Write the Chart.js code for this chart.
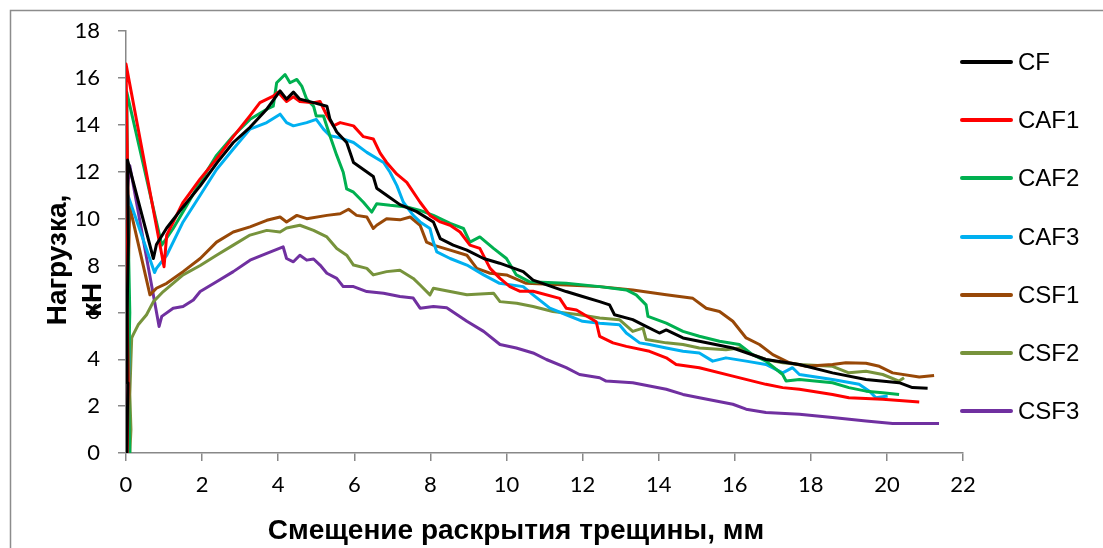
<!DOCTYPE html>
<html>
<head>
<meta charset="utf-8">
<script src="https://cdn.jsdelivr.net/npm/chart.js@4.4.1/dist/chart.umd.min.js"></script>
<style>
  html, body { margin: 0; padding: 0; background: #fff; }
  #wrap { position: relative; width: 1103px; height: 548px; overflow: hidden; }
  #legend { position: absolute; left: 960px; top: 0; font-family: 'Liberation Sans', Arial, sans-serif; font-size: 24px; color: #000; }
  .item { position: absolute; left: 0; height: 26px; white-space: nowrap; }
  .item .ln { position: absolute; left: 0; top: 11px; width: 53px; height: 4px; border-radius: 2px; }
  .item .tx { position: absolute; left: 58px; top: 0; line-height: 26px; }
</style>
</head>
<body>
<div id="wrap">
  <canvas id="chart" width="1103" height="548"></canvas>
  <div id="legend"></div>
</div>
<script>
// Crack mouth opening displacement (mm) vs load (kN)

const cfX = [0.02, 0.05, 0.03, 0.06, 0.04, 0.72, 0.8, 1.07, 1.5, 1.95, 2.4, 2.82, 3.26, 3.7, 4.05, 4.22, 4.4, 4.57, 4.93, 5.28, 5.36, 5.54, 5.8, 5.98, 6.24, 6.5, 6.59, 6.85, 7.2, 7.64, 8.08, 8.26, 8.6, 8.96, 9.4, 9.82, 10.44, 10.7, 11.57, 12.0, 12.45, 12.71, 12.84, 13.32, 13.59, 14.02, 14.2, 14.64, 15.07, 15.95, 16.82, 17.7, 18.57, 19.45, 20.32, 20.67, 21.07];
const cfY = [0, 3, 6, 9, 12.5, 8.3, 8.9, 9.6, 10.5, 11.4, 12.4, 13.25, 13.9, 14.67, 15.45, 15.1, 15.4, 15.1, 14.95, 14.8, 14.25, 13.7, 13.25, 12.4, 12.1, 11.8, 11.3, 11.0, 10.6, 10.3, 9.86, 9.15, 8.87, 8.66, 8.3, 8.1, 7.74, 7.38, 6.89, 6.68, 6.46, 6.32, 5.9, 5.69, 5.47, 5.12, 5.25, 4.91, 4.77, 4.48, 3.99, 3.78, 3.42, 3.14, 3.0, 2.79, 2.76];

const caf1X = [0.03, 0.06, 0.02, 0.05, 0.0, 1.0, 1.07, 1.5, 1.95, 2.38, 2.82, 3.26, 3.52, 3.87, 4.0, 4.22, 4.4, 4.57, 4.93, 5.1, 5.28, 5.45, 5.63, 5.98, 6.24, 6.5, 6.68, 6.85, 7.12, 7.38, 7.73, 7.99, 8.26, 8.52, 8.78, 9.04, 9.3, 9.57, 9.83, 10.09, 10.36, 10.7, 11.4, 11.57, 11.84, 12.36, 12.45, 12.8, 13.15, 13.76, 14.2, 14.46, 15.07, 15.95, 16.82, 17.26, 17.7, 18.57, 19.0, 19.89, 20.85];
const caf1Y = [0, 3, 7, 11, 16.6, 7.95, 9.3, 10.7, 11.7, 12.55, 13.5, 14.4, 14.95, 15.23, 15.4, 15.0, 15.2, 15.0, 14.95, 15.0, 14.4, 13.96, 14.1, 13.96, 13.5, 13.4, 12.8, 12.4, 11.9, 11.55, 10.7, 10.14, 9.86, 9.72, 9.43, 8.87, 8.73, 7.88, 7.45, 7.1, 6.9, 6.9, 6.6, 6.18, 6.1, 5.6, 4.98, 4.7, 4.55, 4.34, 4.06, 3.78, 3.64, 3.28, 2.93, 2.79, 2.72, 2.5, 2.36, 2.29, 2.18];

const caf2X = [0.1, 0.06, 0.1, 0.05, 0.02, 0.94, 1.24, 1.6, 1.95, 2.38, 2.82, 3.26, 3.7, 3.87, 3.96, 4.18, 4.31, 4.49, 4.62, 4.75, 4.93, 5.0, 5.19, 5.36, 5.54, 5.71, 5.8, 5.98, 6.24, 6.46, 6.59, 6.94, 7.38, 7.73, 8.08, 8.52, 8.87, 9.04, 9.3, 9.66, 10.0, 10.26, 10.6, 11.57, 12.45, 13.15, 13.41, 13.67, 13.72, 14.2, 14.64, 15.07, 15.6, 16.12, 16.47, 16.82, 17.26, 17.35, 17.7, 18.57, 19.0, 19.45, 19.89, 20.32];
const caf2Y = [0, 3, 6, 10, 15.4, 8.87, 9.58, 10.57, 11.56, 12.7, 13.54, 14.24, 14.67, 14.8, 15.8, 16.15, 15.8, 15.94, 15.66, 15.1, 14.8, 14.38, 14.38, 13.54, 12.7, 11.98, 11.27, 11.13, 10.7, 10.28, 10.64, 10.57, 10.5, 10.35, 10.14, 9.8, 9.58, 9.0, 9.22, 8.73, 8.3, 7.6, 7.31, 7.24, 7.1, 6.96, 6.75, 6.32, 5.83, 5.54, 5.19, 4.98, 4.77, 4.63, 4.2, 3.92, 3.35, 3.07, 3.14, 3.0, 2.79, 2.64, 2.57, 2.5];

const caf3X = [0.04, 0.08, 0.05, 0.75, 0.8, 1.07, 1.5, 1.95, 2.38, 2.82, 3.26, 3.7, 4.05, 4.22, 4.4, 4.75, 5.0, 5.19, 5.36, 5.63, 5.98, 6.33, 6.77, 6.94, 7.12, 7.29, 7.55, 7.73, 7.99, 8.08, 8.17, 8.52, 8.96, 9.4, 9.82, 10.44, 10.7, 11.14, 11.57, 12.0, 12.45, 12.97, 13.15, 13.5, 13.76, 14.2, 14.64, 15.07, 15.42, 15.77, 16.3, 16.82, 17.26, 17.52, 17.7, 18.57, 19.27, 19.54, 19.71, 20.02];
const caf3Y = [0, 4, 11, 7.7, 7.88, 8.44, 9.86, 11.0, 12.1, 12.97, 13.82, 14.1, 14.46, 14.1, 13.96, 14.1, 14.24, 13.82, 13.54, 13.45, 13.25, 12.83, 12.4, 11.98, 11.41, 10.7, 10.14, 9.86, 9.58, 9.0, 8.58, 8.3, 8.02, 7.6, 7.24, 7.1, 6.75, 6.18, 5.9, 5.62, 5.54, 5.47, 5.12, 4.7, 4.63, 4.48, 4.34, 4.27, 3.92, 4.06, 3.92, 3.78, 3.42, 3.64, 3.35, 3.14, 2.93, 2.64, 2.36, 2.43];

const csf1X = [0.05, 0.08, 0.04, 0.1, 0.63, 0.8, 1.07, 1.5, 1.95, 2.38, 2.82, 3.26, 3.7, 4.05, 4.22, 4.49, 4.75, 5.28, 5.63, 5.85, 6.06, 6.33, 6.5, 6.59, 6.85, 7.2, 7.47, 7.73, 7.9, 8.08, 8.52, 8.96, 9.22, 9.57, 10.0, 10.52, 11.57, 12.45, 13.32, 14.2, 14.9, 15.25, 15.6, 15.95, 16.3, 16.65, 17.0, 17.44, 17.87, 18.57, 18.92, 19.45, 19.8, 20.15, 20.85, 21.24];
const csf1Y = [0, 3, 6.5, 10.5, 6.75, 7.03, 7.24, 7.74, 8.3, 9.0, 9.43, 9.65, 9.93, 10.07, 9.86, 10.14, 10.0, 10.14, 10.21, 10.4, 10.14, 10.07, 9.58, 9.72, 10.0, 9.95, 10.07, 9.72, 9.0, 8.87, 8.66, 8.44, 7.88, 7.67, 7.6, 7.24, 7.17, 7.1, 6.96, 6.75, 6.6, 6.18, 6.04, 5.62, 4.91, 4.63, 4.2, 3.85, 3.7, 3.78, 3.85, 3.83, 3.7, 3.42, 3.24, 3.31];

const csf2X = [0.1, 0.13, 0.1, 0.13, 0.15, 0.19, 0.32, 0.54, 0.72, 0.98, 1.5, 1.95, 2.38, 2.82, 3.26, 3.7, 4.05, 4.22, 4.57, 4.93, 5.28, 5.54, 5.8, 5.98, 6.33, 6.5, 6.85, 7.2, 7.55, 7.73, 7.99, 8.08, 8.52, 8.96, 9.66, 9.83, 10.27, 10.7, 11.22, 11.92, 12.45, 12.97, 13.32, 13.59, 13.67, 14.2, 14.64, 15.07, 15.77, 16.12, 16.47, 16.82, 17.26, 17.7, 18.57, 19.0, 19.45, 19.89, 20.32, 20.45];
const csf2Y = [0, 1, 2.5, 4, 4.91, 5.05, 5.47, 5.9, 6.46, 6.89, 7.6, 8.0, 8.44, 8.87, 9.3, 9.5, 9.43, 9.6, 9.72, 9.5, 9.22, 8.73, 8.44, 8.02, 7.88, 7.6, 7.74, 7.8, 7.45, 7.17, 6.75, 7.03, 6.89, 6.75, 6.82, 6.46, 6.39, 6.25, 6.04, 5.9, 5.76, 5.69, 5.19, 5.33, 4.84, 4.7, 4.63, 4.48, 4.41, 4.48, 4.2, 3.99, 3.85, 3.78, 3.7, 3.42, 3.49, 3.35, 3.07, 3.21];

const csf3X = [0.03, 0.06, 0.02, 0.1, 0.87, 0.94, 1.24, 1.5, 1.77, 1.95, 2.38, 2.82, 3.26, 3.7, 4.13, 4.22, 4.4, 4.57, 4.75, 4.93, 5.1, 5.28, 5.54, 5.71, 5.98, 6.33, 6.77, 7.2, 7.55, 7.73, 8.08, 8.43, 8.96, 9.4, 9.83, 10.26, 10.7, 11.05, 11.57, 11.92, 12.45, 12.62, 13.32, 13.76, 14.2, 14.64, 15.07, 15.95, 16.3, 16.82, 17.7, 18.57, 19.45, 20.15, 21.37];
const csf3Y = [0, 5, 11, 12.26, 5.4, 5.83, 6.18, 6.25, 6.53, 6.89, 7.31, 7.74, 8.23, 8.52, 8.8, 8.3, 8.16, 8.44, 8.23, 8.28, 8.02, 7.67, 7.45, 7.1, 7.1, 6.89, 6.82, 6.68, 6.61, 6.18, 6.25, 6.2, 5.62, 5.19, 4.63, 4.48, 4.27, 3.99, 3.64, 3.35, 3.21, 3.07, 3.0, 2.86, 2.72, 2.5, 2.36, 2.08, 1.87, 1.73, 1.65, 1.51, 1.37, 1.26, 1.26];

const seriesNames = ['CF', 'CAF1', 'CAF2', 'CAF3', 'CSF1', 'CSF2', 'CSF3'];
const seriesColors = ['#000000', '#FF0000', '#00B050', '#00B0F0', '#984807', '#77933C', '#7030A0'];
const seriesXs = [cfX, caf1X, caf2X, caf3X, csf1X, csf2X, csf3X];
const seriesYs = [cfY, caf1Y, caf2Y, caf3Y, csf1Y, csf2Y, csf3Y];

const xTitle = 'Смещение раскрытия трещины, мм';
const yTitle = ['Нагрузка,', 'кН'];

function toPoints(xs, ys) {
  return xs.map((x, i) => ({ x: x, y: ys[i] }));
}

// frame and axis titles (the y title sits off-centre in the original)
const decor = {
  id: 'decor',
  afterDraw(chart) {
    const c = chart.ctx;
    c.save();
    c.strokeStyle = '#8c8c8c';
    c.lineWidth = 1.5;
    c.beginPath();
    c.moveTo(10.5, 548);
    c.lineTo(10.5, 10.5);
    c.lineTo(1103, 10.5);
    c.stroke();

    c.fillStyle = '#000';
    c.font = 'bold 28px "Liberation Sans", Arial, sans-serif';
    c.textAlign = 'center';
    c.textBaseline = 'alphabetic';
    c.fillText(xTitle, 516, 539);

    c.translate(66, 260);
    c.rotate(-Math.PI / 2);
    c.fillText(yTitle[0], 0, 0);
    c.fillText(yTitle[1], -40, 35);
    c.restore();
  }
};

const tickFont = { family: 'Lato', size: 22 };

const chart = new Chart(document.getElementById('chart').getContext('2d'), {
  type: 'line',
  data: {
    datasets: seriesNames.map((name, i) => ({
      label: name,
      data: toPoints(seriesXs[i], seriesYs[i]),
      borderColor: seriesColors[i],
      backgroundColor: seriesColors[i],
      borderWidth: 3,
      pointRadius: 0,
      tension: 0,
      fill: false,
      borderJoinStyle: 'round'
    }))
  },
  options: {
    responsive: false,
    animation: false,
    devicePixelRatio: 1,
    layout: { padding: { top: 30, right: 140, left: 0, bottom: 0 } },
    plugins: {
      legend: { display: false },
      tooltip: { enabled: false }
    },
    scales: {
      x: {
        type: 'linear',
        min: 0,
        max: 22,
        ticks: { stepSize: 2, color: '#000', font: tickFont, padding: 11, maxRotation: 0 },
        grid: { drawOnChartArea: false, drawTicks: true, tickLength: 8, color: '#888', lineWidth: 1.5 },
        border: { color: '#888', width: 1.5 },
        afterFit: (s) => { s.height = 95; }
      },
      y: {
        min: 0,
        max: 18,
        ticks: { stepSize: 2, color: '#000', font: tickFont, padding: 18 },
        grid: { drawOnChartArea: false, drawTicks: true, tickLength: 8, color: '#888', lineWidth: 1.5 },
        border: { color: '#888', width: 1.5 },
        afterFit: (s) => { s.width = 126; }
      }
    }
  },
  plugins: [decor]
});

// Legend built from the datasets
const legendEl = document.getElementById('legend');
chart.data.datasets.forEach((ds, i) => {
  const item = document.createElement('div');
  item.className = 'item';
  item.style.top = (49 + i * 58.2) + 'px';
  item.innerHTML = '<div class="ln" style="background:' + ds.borderColor + '"></div><div class="tx">' + ds.label + '</div>';
  legendEl.appendChild(item);
});
</script>
</body>
</html>
